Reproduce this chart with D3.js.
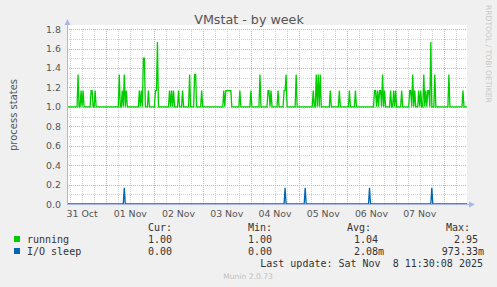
<!DOCTYPE html>
<html>
<head>
<meta charset="utf-8">
<script src="https://cdn.jsdelivr.net/npm/d3@7"></script>
<style>
  body { margin: 0; background: #f0f0f0; }
  svg { display: block; font-family: "DejaVu Sans", sans-serif; }
  .mono { font-family: "DejaVu Sans Mono", monospace; }
</style>
</head>
<body>
<svg id="chart" width="497" height="287"></svg>
<script>
// time window of the week graph (30 min steps)
const start = new Date(2025, 9, 31, 4, 30);
const end = new Date(2025, 10, 8, 11, 30);

// running: flat at 1.0, peaks as [hours after start, value]
const runningBase = 1.0;
const runningPeaks = [
  [5.5, 1.333], [7, 1.167], [8, 1.167], [12, 1.167], [12.5, 1.167], [14, 1.167],
  [26, 1.333], [27.5, 1.167], [28.5, 1.333], [29.5, 1.167], [36, 1.167], [37, 1.167],
  [38, 1.5], [38.5, 1.5], [40.5, 1.167], [44, 1.167], [44.5, 1.167], [45, 1.667],
  [51, 1.167], [52, 1.167], [53, 1.167], [55.5, 1.167], [57.5, 1.167], [61, 1.333],
  [63.5, 1.333], [64, 1.333], [67, 1.167], [78, 1.167], [79, 1.167], [79.5, 1.167],
  [80, 1.167], [80.5, 1.167], [81, 1.167], [81.5, 1.167], [86, 1.167], [91.5, 1.167],
  [96, 1.333], [100, 1.167], [100.5, 1.167], [101.5, 1.167], [105, 1.167], [108, 1.167],
  [108.5, 1.167], [109, 1.333], [114, 1.333], [122.5, 1.167], [124, 1.333], [125, 1.333],
  [126, 1.333], [131, 1.167], [135.5, 1.167], [140.5, 1.167], [143.5, 1.167], [153, 1.167],
  [153.5, 1.167], [154.5, 1.167], [155.5, 1.167], [156, 1.167], [157, 1.333], [158, 1.167],
  [161, 1.167], [162.5, 1.167], [163.5, 1.167], [166.5, 1.167], [170.5, 1.167], [171, 1.167],
  [172, 1.333], [173, 1.167], [175, 1.167], [176, 1.167], [177.5, 1.333], [178.5, 1.167],
  [179.5, 1.167], [180, 1.167], [181, 1.667], [183, 1.333], [190, 1.333], [197, 1.167]
];

// I/O sleep: flat at 0, peaks as [hours after start, value]
const ioBase = 0;
const ioPeaks = [[28.5, 0.167], [108.5, 0.167], [118.5, 0.167], [150.5, 0.167], [181.5, 0.167]];

const legendHeads = ['Cur:', 'Min:', 'Avg:', 'Max:'];
const legendRows = [
  { name: 'running', color: '#00cc00', values: ['1.00 ', '1.00 ', '1.04 ', '2.95 '] },
  { name: 'I/O sleep', color: '#0066b3', values: ['0.00 ', '0.00 ', '2.08m', '973.33m'] }
];
const yTicks = [0, 0.2, 0.4, 0.6, 0.8, 1.0, 1.2, 1.4, 1.6, 1.8];

const svg = d3.select('#chart');
const marginLeft = 67;
const plotRight = 467;
const plotTop = 25;
const plotBottom = 204;

const x = d3.scaleTime().domain([start, end]).range([marginLeft, plotRight]);
const y = d3.scaleLinear().domain([0, 1.842]).range([plotBottom, plotTop]);

// build series from peaks
const steps = d3.range(0, 199.5, 0.5);
function series(base, peaks) {
  const m = new Map(peaks.map(d => [d[0], d[1]]));
  return steps.map(h => ({ t: d3.timeMinute.offset(start, h * 60), v: m.has(h) ? m.get(h) : base }));
}
const running = series(runningBase, runningPeaks);
const ioSleep = series(ioBase, ioPeaks);

svg.append('rect').attr('width', 497).attr('height', 287).attr('fill', '#f0f0f0');
svg.append('rect')
  .attr('x', marginLeft).attr('y', plotTop)
  .attr('width', plotRight - marginLeft).attr('height', plotBottom - plotTop)
  .attr('fill', '#ffffff');

// grid
const grid = svg.append('g').attr('shape-rendering', 'crispEdges');
const minorX = d3.timeHour.every(6).range(start, end).filter(d => d.getHours() !== 0);
const majorX = d3.timeDay.range(start, end);
grid.selectAll('.vminor').data(minorX).enter().append('line')
  .attr('x1', d => Math.round(x(d)) + 0.5).attr('x2', d => Math.round(x(d)) + 0.5)
  .attr('y1', y(1.8)).attr('y2', plotBottom)
  .attr('stroke', '#d2d2d2').attr('stroke-dasharray', '1,1');
const minorY = d3.range(1, 18, 2).map(d => d / 10);
grid.selectAll('.hminor').data(minorY).enter().append('line')
  .attr('x1', marginLeft).attr('x2', plotRight)
  .attr('y1', d => Math.round(y(d)) + 0.5).attr('y2', d => Math.round(y(d)) + 0.5)
  .attr('stroke', '#d2d2d2').attr('stroke-dasharray', '1,1');
grid.selectAll('.vmajor').data(majorX).enter().append('line')
  .attr('x1', d => Math.round(x(d)) + 0.5).attr('x2', d => Math.round(x(d)) + 0.5)
  .attr('y1', y(1.8)).attr('y2', plotBottom)
  .attr('stroke', '#e4a8a8').attr('stroke-dasharray', '1,1');
grid.selectAll('.hmajor').data(yTicks.slice(1)).enter().append('line')
  .attr('x1', marginLeft).attr('x2', plotRight)
  .attr('y1', d => Math.round(y(d)) + 0.5).attr('y2', d => Math.round(y(d)) + 0.5)
  .attr('stroke', '#e4a8a8').attr('stroke-dasharray', '1,1');

// lines
const line = d3.line().x(d => x(d.t)).y(d => y(d.v));
svg.append('path').datum(running)
  .attr('d', line).attr('fill', 'none').attr('stroke', '#00cc00').attr('stroke-width', 1.3);
svg.append('path').datum(ioSleep)
  .attr('d', line).attr('fill', 'none').attr('stroke', '#0066b3').attr('stroke-width', 1.3);

// axes with arrows
const axisColor = '#a9b8e6';
svg.append('line').attr('x1', marginLeft + 0.5).attr('x2', marginLeft + 0.5)
  .attr('y1', plotBottom).attr('y2', 24).attr('stroke', axisColor);
svg.append('path').attr('d', `M${marginLeft - 2.5},25 L${marginLeft + 0.5},19 L${marginLeft + 3.5},25 Z`)
  .attr('fill', axisColor);
svg.append('line').attr('x1', marginLeft).attr('x2', plotRight + 3)
  .attr('y1', plotBottom + 0.5).attr('y2', plotBottom + 0.5).attr('stroke', axisColor);
svg.append('path').attr('d', `M${plotRight + 2},${plotBottom - 2.5} L${plotRight + 8},${plotBottom + 0.5} L${plotRight + 2},${plotBottom + 3.5} Z`)
  .attr('fill', axisColor);

// tick labels
svg.selectAll('.ylab').data(yTicks).enter().append('text')
  .attr('x', 61).attr('y', d => y(d) + 3.5)
  .attr('text-anchor', 'end').attr('font-size', 9.4).attr('fill', '#555')
  .text(d3.format('.1f'));
const dayLabels = d3.timeDay.range(new Date(2025, 9, 31), new Date(2025, 10, 8)).map(d => d3.timeHour.offset(d, 12));
svg.selectAll('.xlab').data(dayLabels).enter().append('text')
  .attr('x', d => x(d)).attr('y', 216.5)
  .attr('text-anchor', 'middle').attr('font-size', 9.4).attr('fill', '#555')
  .text(d3.timeFormat('%d %b'));

// titles
svg.append('text').attr('x', 249).attr('y', 23.5).attr('text-anchor', 'middle')
  .attr('font-size', 12.7).attr('fill', '#555').text('VMstat - by week');
svg.append('text').attr('transform', 'translate(17,115) rotate(-90)').attr('text-anchor', 'middle')
  .attr('font-size', 10).attr('fill', '#555').text('process states');
svg.append('text').attr('transform', 'translate(486,5) rotate(90)').attr('text-anchor', 'start')
  .attr('font-size', 7.6).attr('fill', '#c8c8c8').text('RRDTOOL / TOBI OETIKER');

// legend
const colEnds = [178, 278, 384, 484];
const headEnds = [172, 272, 371, 470];
const legend = svg.append('g').attr('class', 'mono').attr('font-size', 10).attr('fill', '#333');
legend.selectAll('.head').data(legendHeads).enter().append('text')
  .attr('x', (d, i) => headEnds[i]).attr('y', 230.5).attr('text-anchor', 'end')
  .attr('xml:space', 'preserve').text(d => d);
legendRows.forEach((row, r) => {
  const yy = 242.5 + r * 12;
  legend.append('rect').attr('x', 14).attr('y', yy - 6.5).attr('width', 6).attr('height', 6).attr('fill', row.color);
  legend.append('text').attr('x', 27).attr('y', yy).text(row.name);
  legend.selectAll('.val' + r).data(row.values).enter().append('text')
    .attr('x', (d, i) => colEnds[i]).attr('y', yy).attr('text-anchor', 'end')
    .attr('xml:space', 'preserve').text(d => d);
});
legend.append('text').attr('x', 483).attr('y', 266.5).attr('text-anchor', 'end')
  .attr('xml:space', 'preserve').text('Last update: Sat Nov  8 11:30:08 2025');
svg.append('text').attr('x', 248).attr('y', 279).attr('text-anchor', 'middle')
  .attr('font-size', 7.6).attr('fill', '#c0c0c0').text('Munin 2.0.73');
</script>
</body>
</html>
